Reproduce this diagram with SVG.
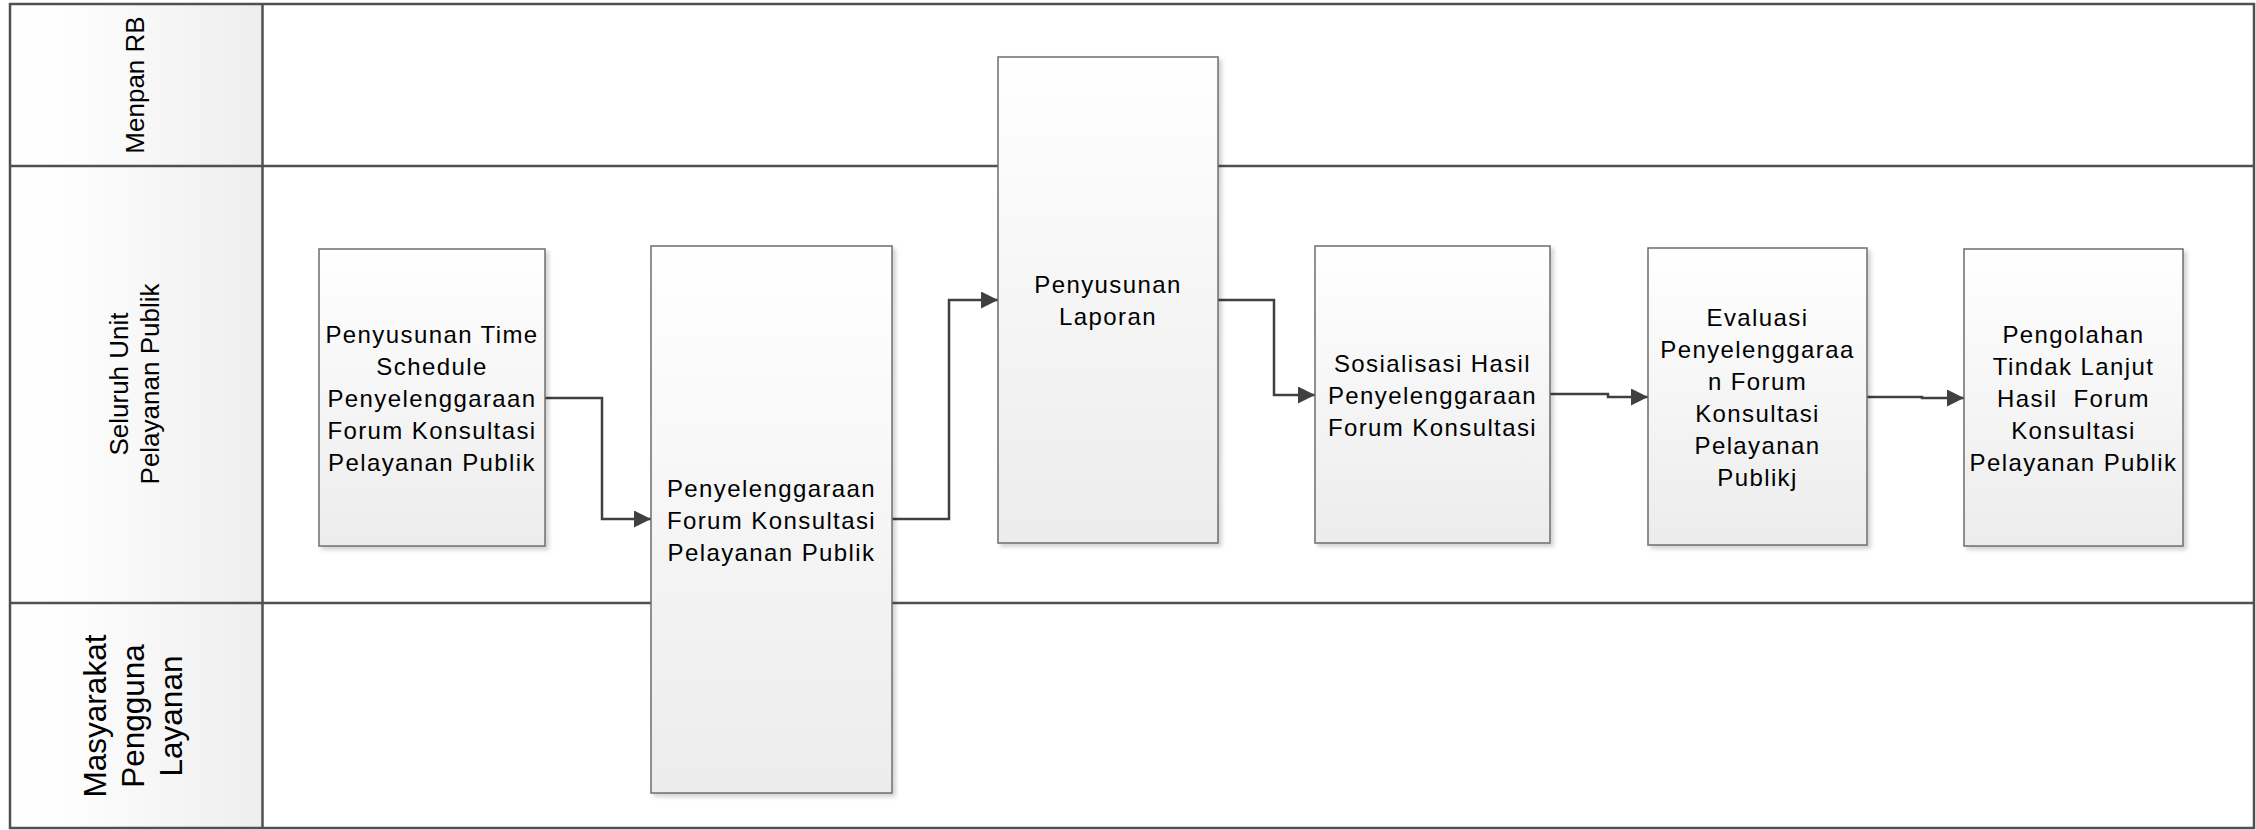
<svg xmlns="http://www.w3.org/2000/svg" width="2256" height="830" viewBox="0 0 2256 830">
<style>
.lane{fill:none;stroke:#505050;stroke-width:2.5}
.box{stroke:#6e6e6e;stroke-width:1.5;fill:url(#boxg);filter:url(#sh)}
.bt{font-family:"Liberation Sans",Arial,sans-serif;font-size:24px;letter-spacing:1.4px;fill:#000;text-anchor:middle}
.ht{font-family:"Liberation Sans",Arial,sans-serif;font-size:26px;fill:#000;text-anchor:middle}
.ht2{font-family:"Liberation Sans",Arial,sans-serif;font-size:31.5px;fill:#000;text-anchor:middle}
.conn{fill:none;stroke:#404040;stroke-width:2.5;marker-end:url(#arr)}
</style>
<defs>
<linearGradient id="boxg" x1="0" y1="0" x2="0" y2="1">
<stop offset="0" stop-color="#ffffff"/>
<stop offset="1" stop-color="#ececec"/>
</linearGradient>
<linearGradient id="hdrg" x1="0" y1="0" x2="1" y2="0">
<stop offset="0" stop-color="#ffffff"/>
<stop offset="0.25" stop-color="#fdfdfd"/>
<stop offset="1" stop-color="#eeeeee"/>
</linearGradient>
<filter id="sh" x="-10%" y="-10%" width="130%" height="130%">
<feDropShadow dx="3" dy="3" stdDeviation="2" flood-color="#000" flood-opacity="0.18"/>
</filter>
<marker id="arr" markerUnits="userSpaceOnUse" markerWidth="20" markerHeight="20" refX="17" refY="8.5" orient="auto">
<path d="M0,0 L17,8.5 L0,17 z" fill="#404040"/>
</marker>
</defs>
<rect x="0" y="0" width="2256" height="830" fill="#ffffff"/>
<g id="pool">
<rect x="10" y="4" width="253" height="824" fill="url(#hdrg)"/>
<rect x="10" y="4" width="2244" height="824" class="lane"/>
<line x1="10" y1="166" x2="2254" y2="166" class="lane"/>
<line x1="10" y1="603" x2="2254" y2="603" class="lane"/>
<line x1="262.5" y1="4" x2="262.5" y2="828" class="lane"/>
</g>
<g id="lane-menpan">
<text class="ht" transform="rotate(-90)"><tspan x="-85" y="144">Menpan RB</tspan></text>
</g>
<g id="lane-unit">
<text class="ht" transform="rotate(-90)"><tspan x="-384" y="127.5">Seluruh Unit</tspan><tspan x="-384" y="159">Pelayanan Publik</tspan></text>
</g>
<g id="lane-masyarakat">
<text class="ht2" transform="rotate(-90)"><tspan x="-716" y="105.5">Masyarakat</tspan><tspan x="-716" y="144">Pengguna</tspan><tspan x="-716" y="182">Layanan</tspan></text>
</g>
<g id="connectors">
<path class="conn" d="M545,398 H602 V519 H651"/>
<path class="conn" d="M892,519 H949 V300 H998"/>
<path class="conn" d="M1218,300 H1274 V395 H1315"/>
<path class="conn" d="M1550,394 H1608 V397 H1648"/>
<path class="conn" d="M1867,397 H1922 V398 H1964"/>
</g>
<g id="n1">
<rect class="box" x="319" y="249" width="226" height="297"/>
<text class="bt"><tspan x="432" y="342.5">Penyusunan Time</tspan><tspan x="432" y="374.5">Schedule</tspan><tspan x="432" y="406.5">Penyelenggaraan</tspan><tspan x="432" y="438.5">Forum Konsultasi</tspan><tspan x="432" y="470.5">Pelayanan Publik</tspan></text>
</g>
<g id="n2">
<rect class="box" x="651" y="246" width="241" height="547"/>
<text class="bt"><tspan x="771.5" y="496.5">Penyelenggaraan</tspan><tspan x="771.5" y="528.5">Forum Konsultasi</tspan><tspan x="771.5" y="560.5">Pelayanan Publik</tspan></text>
</g>
<g id="n3">
<rect class="box" x="998" y="57" width="220" height="486"/>
<text class="bt"><tspan x="1108" y="293">Penyusunan</tspan><tspan x="1108" y="325">Laporan</tspan></text>
</g>
<g id="n4">
<rect class="box" x="1315" y="246" width="235" height="297"/>
<text class="bt"><tspan x="1432.5" y="371.5">Sosialisasi Hasil</tspan><tspan x="1432.5" y="403.5">Penyelenggaraan</tspan><tspan x="1432.5" y="435.5">Forum Konsultasi</tspan></text>
</g>
<g id="n5">
<rect class="box" x="1648" y="248" width="219" height="297"/>
<text class="bt"><tspan x="1757.5" y="325.5">Evaluasi</tspan><tspan x="1757.5" y="357.5">Penyelenggaraa</tspan><tspan x="1757.5" y="389.5">n Forum</tspan><tspan x="1757.5" y="421.5">Konsultasi</tspan><tspan x="1757.5" y="453.5">Pelayanan</tspan><tspan x="1757.5" y="485.5">Publikj</tspan></text>
</g>
<g id="n6">
<rect class="box" x="1964" y="249" width="219" height="297"/>
<text class="bt" xml:space="preserve"><tspan x="2073.5" y="342.5">Pengolahan</tspan><tspan x="2073.5" y="374.5">Tindak Lanjut</tspan><tspan x="2073.5" y="406.5">Hasil  Forum</tspan><tspan x="2073.5" y="438.5">Konsultasi</tspan><tspan x="2073.5" y="470.5">Pelayanan Publik</tspan></text>
</g>
</svg>
